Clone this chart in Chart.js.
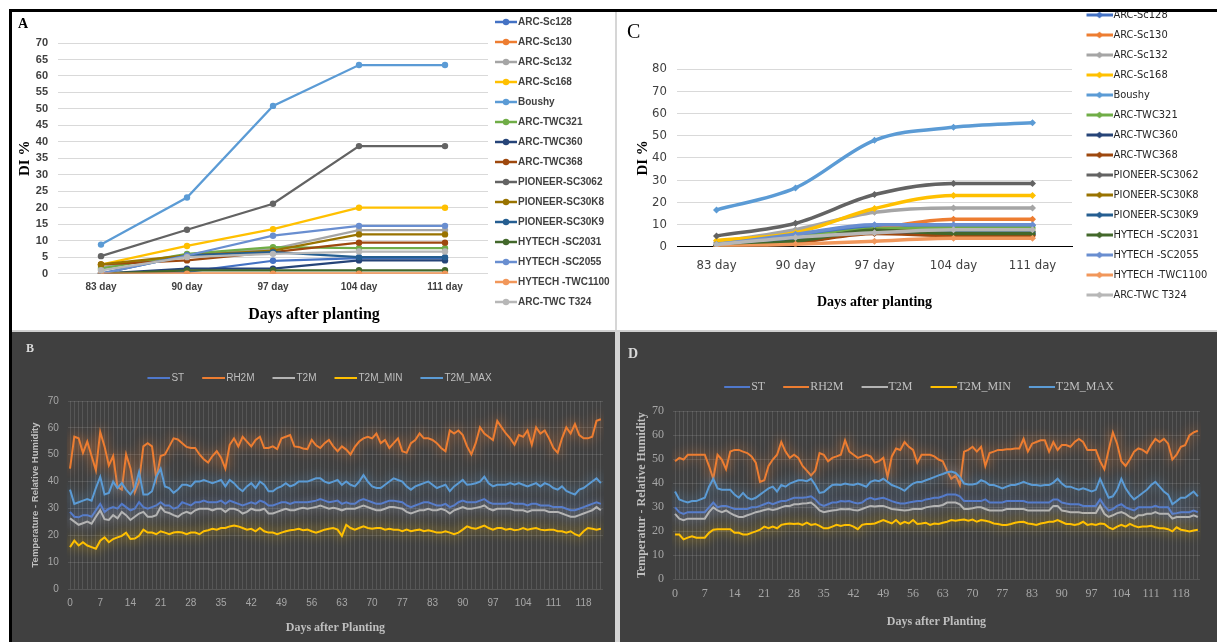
<!DOCTYPE html>
<html>
<head>
<meta charset="utf-8">
<script src="https://cdn.jsdelivr.net/npm/chart.js@4.4.1/dist/chart.umd.min.js"></script>
<style>
  html, body { margin: 0; padding: 0; background: #fff; }
  body { width: 1217px; height: 642px; position: relative; overflow: hidden; }
  canvas { position: absolute; }
  .bar { position: absolute; }
  #a { left: 0; top: 0; }
  #c { left: 617px; top: 0; }
  #b { left: 12px; top: 332px; background: #404040; }
  #d { left: 620px; top: 332px; background: #404040; }
</style>
</head>
<body>
<canvas id="a" width="615" height="330"></canvas>
<canvas id="c" width="600" height="330"></canvas>
<canvas id="b" width="603" height="310"></canvas>
<canvas id="d" width="597" height="310"></canvas>
<div class="bar" style="left:615px;top:12px;width:2px;height:318px;background:#d6d6d6"></div>
<div class="bar" style="left:12px;top:330px;width:1205px;height:2px;background:#cfcfcf"></div>
<div class="bar" style="left:615px;top:332px;width:5px;height:310px;background:#d4d4d4"></div>
<div class="bar" style="left:9px;top:9px;width:1208px;height:3px;background:#000"></div>
<div class="bar" style="left:9px;top:9px;width:3px;height:633px;background:#000"></div>
<script>
// ---- data: disease index (A, C) ----
const cultivars = ["ARC-Sc128", "ARC-Sc130", "ARC-Sc132", "ARC-Sc168", "Boushy", "ARC-TWC321", "ARC-TWC360",
  "ARC-TWC368", "PIONEER-SC3062", "PIONEER-SC30K8", "PIONEER-SC30K9", "HYTECH -SC2031", "HYTECH -SC2055",
  "HYTECH -TWC1100", "ARC-TWC T324"];
const dayCats = ["83 day", "90 day", "97 day", "104 day", "111 day"];

const diA = [
  [0, 0.5, 3.9, 4.7, 4.7],
  [0, 0, 0, 0, 0],
  [2, 5.5, 7.5, 13.2, 13.2],
  [2.7, 8.4, 13.5, 20, 20],
  [8.8, 23.1, 50.9, 63.3, 63.3],
  [1.5, 6, 8, 7.7, 7.7],
  [0, 1.5, 1.5, 4, 4],
  [2.8, 4, 6.5, 9.4, 9.4],
  [5.3, 13.3, 21.2, 38.7, 38.7],
  [2.8, 5.5, 7, 11.9, 11.9],
  [0, 5.5, 6.5, 5, 5],
  [0, 1, 1, 1, 1],
  [0, 5.5, 11.5, 14.5, 14.5],
  [0, 0, 0, 0, 0],
  [1, 5, 6, 6.7, 6.7]
];

const diC = [
  [1, 5, 9, 9.5, 9.5],
  [0.5, 2.5, 8, 12.4, 12.4],
  [2, 7.7, 15.5, 17.5, 17.5],
  [2.8, 6.3, 17.2, 23.1, 23.1],
  [16.6, 26.5, 47.9, 53.8, 55.8],
  [1, 4, 8, 8.5, 8.5],
  [0.5, 2, 6.5, 5.5, 5.5],
  [0.5, 2, 6, 5, 5],
  [4.9, 10.6, 23.5, 28.5, 28.5],
  [1, 3, 7, 7, 7],
  [0.5, 3, 7, 6.5, 6.5],
  [0.5, 2.5, 7.5, 6, 6],
  [1, 5.6, 9.9, 9.9, 9.9],
  [0, 1.1, 2.5, 3.8, 3.8],
  [1, 4.2, 6.3, 7.7, 7.7]
];

// ---- data: weather (B, D) ----
const dayTicks = ["0", "7", "14", "21", "28", "35", "42", "49", "56", "63", "70", "77", "83", "90", "97", "104", "111", "118"];
const weatherNames = ["ST", "RH2M", "T2M", "T2M_MIN", "T2M_MAX"];

const stB = [28.7, 26.9, 26.7, 27.5, 27.5, 26.9, 29.3, 31.7, 28.7, 29.9,
  30.5, 29.9, 31.7, 30.5, 29.3, 29.9, 32.3, 30.5, 29.9, 30.5,
  31.1, 32.3, 31.1, 31.1, 29.9, 30.5, 32.3, 31.7, 31.1, 32.3,
  32.3, 32.9, 32.3, 32.3, 32.3, 32.9, 31.7, 32.9, 32.3, 31.7,
  31.1, 31.7, 32.3, 31.7, 32.9, 32.3, 31.1, 31.1, 31.7, 32.3,
  32.3, 31.7, 32.3, 32.3, 32.3, 32.3, 32.6, 32.9, 33.5, 32.9,
  32.3, 32.6, 32.9, 31.7, 32.3, 31.7, 31.7, 32.9, 33.5, 32.9,
  32.3, 31.7, 31.7, 32.3, 32.9, 32.9, 32.6, 32.3, 31.1, 30.5,
  31.1, 31.7, 32.3, 32.3, 31.7, 31.1, 31.1, 31.7, 30.5, 31.1,
  32.3, 32.9, 32.3, 32.3, 32.3, 32.9, 33.5, 32.3, 31.7, 31.7,
  31.7, 31.7, 32.3, 31.7, 31.7, 31.7, 31.1, 31.7, 31.7, 31.1,
  31.1, 31.1, 30.5, 30.5, 30.5, 29.9, 29.3, 29.3, 29.9, 30.5,
  31.1, 31.7, 32.3, 31.7];
const rh2mB = [44.8, 56.7, 56.1, 50.7, 54.9, 49.5, 44.2, 58.5, 53.1, 46.0,
  49.5, 38.0, 37.0, 50.1, 45.0, 36.0, 40.0, 53.1, 54.3, 53.1,
  41.0, 49.5, 50.1, 53.1, 56.1, 55.7, 54.3, 52.9, 52.5, 52.5,
  50.1, 48.3, 47.1, 49.5, 51.3, 48.9, 44.8, 53.7, 56.1, 53.1,
  56.7, 54.9, 53.1, 55.5, 56.7, 52.5, 52.5, 53.1, 52.1, 56.1,
  56.7, 57.3, 53.1, 52.9, 52.3, 52.1, 55.5, 53.5, 52.5, 54.3,
  55.5, 53.1, 51.3, 53.1, 51.9, 50.1, 52.9, 54.9, 56.1, 56.7,
  56.1, 57.9, 54.3, 55.5, 52.5, 54.3, 56.1, 51.3, 50.7, 54.3,
  55.5, 57.9, 56.1, 56.1, 55.5, 54.3, 52.5, 51.3, 59.0, 57.9,
  59.0, 57.3, 53.1, 50.1, 54.3, 60.2, 57.9, 56.7, 55.5, 62.6,
  60.2, 57.9, 56.1, 53.7, 57.3, 56.7, 59.0, 53.7, 60.2, 57.9,
  59.0, 56.1, 52.5, 50.7, 56.1, 60.2, 57.9, 61.4, 57.3, 56.1,
  56.1, 56.7, 62.6, 63.2];
const t2mB = [26.3, 25.1, 23.9, 24.5, 25.1, 24.3, 26.9, 29.3, 26.0, 25.7,
  27.5, 26.3, 28.7, 27.5, 25.7, 26.9, 28.1, 28.7, 26.9, 26.9,
  27.5, 30.5, 28.7, 28.3, 27.5, 26.9, 28.1, 28.7, 28.1, 29.3,
  29.9, 29.9, 29.9, 29.3, 29.9, 29.9, 28.7, 29.9, 29.9, 29.3,
  28.1, 28.7, 29.9, 29.3, 29.3, 29.9, 28.1, 28.1, 28.7, 29.3,
  29.9, 29.3, 29.3, 29.9, 30.2, 29.9, 30.2, 30.5, 31.1, 30.5,
  29.9, 30.2, 29.9, 29.3, 29.9, 29.9, 29.9, 30.5, 31.1, 30.5,
  29.9, 29.3, 29.3, 29.9, 30.5, 30.5, 30.2, 29.9, 28.7, 28.1,
  28.7, 29.3, 29.3, 29.9, 29.3, 29.3, 29.9, 29.3, 28.1, 29.3,
  29.9, 30.5, 29.9, 29.9, 30.2, 30.5, 31.1, 29.9, 29.3, 29.9,
  29.9, 29.9, 29.9, 29.3, 29.3, 29.3, 28.7, 29.3, 29.3, 29.3,
  29.3, 28.7, 28.7, 28.7, 28.1, 27.5, 26.9, 26.9, 27.5, 28.1,
  28.7, 29.3, 30.5, 29.3];
const t2mMinB = [15.6, 18.0, 16.2, 17.4, 16.2, 15.6, 15.0, 18.0, 19.2, 17.4,
  18.6, 19.2, 19.8, 21.0, 18.6, 18.8, 19.8, 22.1, 21.0, 21.0,
  20.4, 21.5, 21.0, 20.4, 21.0, 21.2, 21.0, 20.4, 21.0, 21.0,
  20.4, 21.5, 21.9, 22.4, 22.1, 22.7, 22.7, 23.3, 23.6, 23.3,
  22.7, 22.1, 22.4, 21.5, 22.7, 21.5, 21.0, 21.0, 20.4, 21.0,
  21.5, 21.9, 22.1, 22.4, 21.9, 22.1, 21.5, 21.0, 21.5, 22.1,
  22.4, 22.7, 22.1, 19.8, 23.9, 22.7, 22.1, 22.7, 23.3, 22.7,
  22.4, 22.7, 22.7, 22.1, 22.4, 22.1, 22.1, 21.5, 22.1, 21.5,
  21.9, 22.1, 21.5, 21.9, 21.5, 21.0, 21.0, 21.5, 21.0, 20.4,
  21.0, 22.1, 23.3, 22.7, 22.4, 23.0, 23.6, 22.7, 22.1, 22.7,
  22.7, 22.1, 22.4, 21.9, 22.1, 22.7, 22.1, 22.4, 22.7, 22.1,
  21.9, 22.1, 22.1, 21.5, 21.5, 21.0, 21.5, 20.4, 19.8, 21.5,
  22.7, 22.4, 22.1, 22.4];
const t2mMaxB = [37.0, 31.7, 32.3, 32.9, 33.5, 32.9, 37.6, 41.8, 35.2, 35.8,
  40.0, 37.6, 39.4, 37.0, 35.2, 37.6, 43.6, 35.2, 35.2, 36.4,
  41.8, 44.8, 38.2, 37.6, 35.8, 37.0, 38.8, 38.8, 38.2, 40.0,
  40.0, 40.6, 40.0, 39.4, 40.0, 40.6, 38.2, 40.6, 39.4, 37.6,
  36.4, 38.2, 39.4, 37.6, 40.0, 38.8, 36.4, 36.4, 37.6, 38.2,
  39.4, 38.2, 38.8, 40.0, 40.0, 40.0, 40.6, 41.2, 41.2, 40.0,
  39.4, 40.0, 40.6, 38.8, 40.0, 38.8, 38.2, 40.0, 42.4, 40.0,
  38.2, 37.6, 37.6, 38.8, 40.0, 41.2, 40.6, 40.0, 38.2, 37.0,
  38.2, 38.8, 39.4, 40.0, 38.8, 37.6, 38.2, 38.8, 36.4, 38.2,
  39.4, 40.6, 38.8, 39.0, 39.4, 40.0, 41.8, 39.4, 38.2, 38.8,
  38.8, 38.8, 39.4, 38.8, 39.4, 38.8, 38.2, 38.8, 39.4, 38.2,
  39.4, 38.8, 37.6, 37.0, 38.2, 36.5, 35.8, 35.2, 37.0, 37.6,
  38.8, 40.0, 41.2, 39.4];

const stD = [29.9, 27.9, 27.2, 27.9, 27.9, 27.9, 27.9, 27.9, 29.9, 31.9,
  29.9, 30.5, 30.5, 29.9, 29.2, 29.2, 29.2, 29.2, 29.9, 29.9,
  30.5, 31.2, 31.9, 31.2, 31.9, 32.5, 32.5, 33.2, 33.9, 33.9,
  33.9, 34.1, 34.5, 33.2, 31.2, 30.5, 31.2, 31.9, 31.9, 32.5,
  32.3, 32.5, 31.9, 31.5, 31.9, 33.2, 33.9, 33.2, 33.6, 33.9,
  33.2, 32.5, 31.9, 31.5, 31.5, 31.9, 32.2, 32.5, 32.5, 33.2,
  33.5, 33.9, 33.9, 34.5, 35.2, 35.2, 35.2, 34.5, 32.5, 32.5,
  32.5, 32.5, 32.5, 33.2, 31.9, 31.9, 31.9, 31.9, 32.5, 32.5,
  32.5, 32.5, 32.5, 31.9, 31.9, 31.9, 31.9, 31.9, 31.9, 33.2,
  33.2, 31.9, 31.5, 31.2, 31.2, 31.2, 30.5, 30.5, 30.5, 30.5,
  33.2, 30.5, 28.6, 29.2, 30.5, 31.2, 29.9, 29.2, 28.6, 29.9,
  29.9, 29.9, 29.9, 30.5, 29.9, 29.9, 29.9, 27.2, 27.5, 27.9,
  27.9, 27.9, 28.6, 27.9];
const rh2mD = [49.1, 50.5, 49.8, 51.8, 51.8, 51.8, 51.8, 51.8, 47.1, 41.8,
  51.8, 49.8, 45.8, 53.1, 53.8, 53.8, 53.1, 52.5, 51.1, 48.5,
  40.5, 41.2, 47.1, 49.8, 51.8, 57.1, 53.1, 50.5, 51.8, 50.5,
  47.1, 45.2, 43.2, 45.2, 52.5, 51.8, 49.1, 50.5, 51.1, 51.8,
  57.8, 53.1, 51.8, 50.5, 51.1, 51.8, 51.1, 48.5, 49.1, 50.5,
  42.5, 51.1, 54.4, 53.8, 57.1, 55.1, 53.8, 48.5, 51.8, 51.8,
  51.8, 51.1, 49.8, 49.1, 45.2, 41.8, 43.2, 39.2, 53.1, 53.8,
  55.1, 53.1, 55.1, 47.1, 52.5, 53.1, 53.8, 53.8, 54.1, 54.1,
  54.4, 54.4, 58.4, 53.1, 56.4, 57.1, 57.8, 57.8, 53.1, 57.1,
  53.8, 55.8, 55.8, 55.1, 57.1, 58.4, 57.1, 53.8, 53.8, 53.8,
  49.1, 45.8, 53.8, 61.1, 56.4, 49.1, 47.1, 49.8, 53.1, 54.4,
  53.8, 52.5, 55.8, 58.4, 57.1, 58.4, 56.4, 49.8, 51.8, 55.1,
  55.8, 59.8, 61.1, 61.8];
const t2mD = [27.2, 25.2, 24.6, 25.2, 25.2, 25.2, 25.2, 25.2, 27.9, 29.9,
  28.6, 27.9, 28.6, 27.5, 26.6, 25.9, 25.9, 26.6, 27.2, 27.9,
  28.3, 28.8, 29.2, 28.8, 29.2, 29.9, 30.5, 30.5, 31.2, 31.2,
  31.5, 31.6, 31.9, 30.5, 28.6, 27.9, 28.3, 28.6, 28.8, 29.2,
  29.1, 29.2, 28.8, 28.6, 29.2, 29.9, 30.5, 30.3, 30.5, 30.5,
  29.9, 29.2, 29.0, 28.8, 28.6, 28.8, 29.2, 29.2, 29.2, 29.9,
  30.2, 30.5, 30.5, 30.9, 31.9, 31.9, 31.9, 31.2, 29.2, 29.2,
  29.5, 29.9, 29.9, 29.2, 28.6, 28.6, 28.6, 28.6, 29.2, 29.2,
  29.2, 29.2, 29.2, 28.6, 28.6, 28.6, 28.6, 28.6, 28.6, 30.5,
  30.5, 28.6, 28.3, 27.9, 27.9, 27.9, 27.5, 27.5, 27.5, 27.5,
  30.5, 27.2, 25.9, 26.6, 27.5, 27.9, 27.2, 25.9, 25.2, 26.6,
  26.6, 27.2, 27.2, 27.9, 27.2, 27.2, 27.2, 25.2, 25.9, 25.9,
  25.9, 25.9, 26.6, 25.9];
const t2mMinD = [18.6, 18.6, 16.6, 17.3, 17.9, 17.3, 17.3, 17.3, 19.3, 20.6,
  20.8, 20.8, 20.8, 20.8, 19.3, 19.3, 18.6, 18.6, 19.3, 19.9,
  20.6, 21.9, 21.2, 21.9, 21.2, 22.6, 23.0, 23.2, 23.0, 23.2,
  22.6, 23.5, 22.6, 23.0, 22.2, 21.2, 21.2, 21.9, 22.6, 22.2,
  22.6, 22.6, 21.9, 20.8, 22.6, 23.0, 23.0, 23.2, 23.9, 24.6,
  23.9, 23.2, 24.6, 23.0, 23.9, 23.2, 24.6, 23.0, 23.2, 23.5,
  22.6, 23.2, 23.0, 23.5, 23.9, 24.6, 24.3, 24.6, 24.8, 24.3,
  24.8, 23.9, 24.6, 24.3, 23.9, 23.2, 23.0, 22.6, 22.6, 23.0,
  23.5, 23.8, 23.9, 23.2, 23.0, 22.6, 23.2, 23.5, 23.9, 23.9,
  24.6, 23.8, 23.0, 23.0, 22.6, 23.0, 23.9, 22.6, 23.0, 22.6,
  23.2, 23.0, 21.6, 20.8, 21.9, 22.6, 21.9, 23.0, 22.2, 21.6,
  21.9, 21.9, 22.2, 21.6, 21.2, 21.2, 20.8, 19.9, 21.6, 20.6,
  20.3, 19.9, 20.3, 20.6];
const t2mMaxD = [36.5, 33.2, 32.5, 31.9, 32.5, 32.5, 33.2, 33.9, 38.5, 41.8,
  37.8, 37.2, 37.2, 37.2, 35.2, 33.9, 35.9, 33.9, 33.2, 33.9,
  35.2, 36.5, 37.8, 38.5, 36.5, 39.2, 38.5, 39.8, 40.5, 41.2,
  41.2, 40.8, 41.8, 39.2, 35.9, 36.3, 37.8, 39.2, 39.4, 39.2,
  39.8, 39.4, 39.2, 39.8, 39.2, 38.5, 40.5, 41.2, 40.8, 41.8,
  40.5, 39.2, 38.5, 37.8, 36.8, 38.5, 39.8, 40.5, 40.5, 41.2,
  41.8, 42.5, 43.2, 43.8, 44.5, 44.8, 44.2, 42.5, 39.8, 39.4,
  39.4, 39.8, 41.2, 40.5, 39.2, 39.2, 38.5, 37.8, 38.5, 39.2,
  39.2, 39.8, 40.5, 39.8, 39.2, 39.2, 38.9, 39.2, 39.2, 40.2,
  41.8, 39.8, 38.5, 38.5, 37.8, 37.2, 37.8, 37.2, 36.5, 37.2,
  41.8, 37.8, 33.9, 34.5, 37.2, 41.8, 37.8, 35.2, 33.2, 34.5,
  35.9, 37.2, 39.2, 40.5, 38.5, 36.5, 35.2, 31.2, 32.5, 33.9,
  33.9, 35.2, 36.5, 34.5];

// ---- styles ----
const cultivarColors = ["#4472C4", "#ED7D31", "#A5A5A5", "#FFC000", "#5B9BD5", "#70AD47", "#264478",
  "#9E480E", "#636363", "#997300", "#255E91", "#43682B", "#698ED0", "#F1975A", "#B7B7B7"];
const weatherColors = ["#4F78CC", "#ED7D31", "#B4B4B4", "#FFC000", "#5B9BD5"];

const SERIF = "'Liberation Serif', 'Times New Roman', serif";
const NARROW = "'Liberation Sans Narrow', 'DejaVu Sans Condensed', 'Liberation Sans', sans-serif";

Chart.defaults.font.family = "'Liberation Sans', Arial, sans-serif";
Chart.defaults.animation = false;
Chart.defaults.responsive = false;
Chart.defaults.devicePixelRatio = 1;
Chart.defaults.plugins.tooltip.enabled = false;

// legend sample: a short line (with marker) drawn on a small canvas
function lineIcon(color, w, m, lw, marker) {
  const c = document.createElement("canvas");
  c.width = w; c.height = 10;
  const g = c.getContext("2d");
  g.strokeStyle = color; g.fillStyle = color; g.lineWidth = lw;
  g.beginPath(); g.moveTo(m, 5); g.lineTo(w, 5); g.stroke();
  const cx = (m + w) / 2;
  if (marker === "circle") { g.beginPath(); g.arc(cx, 5, 3.2, 0, Math.PI * 2); g.fill(); }
  if (marker === "diamond") {
    g.beginPath(); g.moveTo(cx, 1.5); g.lineTo(cx + 3.5, 5); g.lineTo(cx, 8.5); g.lineTo(cx - 3.5, 5); g.closePath(); g.fill();
  }
  return c;
}

const withIcons = (icons) => (chart) => {
  const items = Chart.defaults.plugins.legend.labels.generateLabels(chart);
  items.forEach(it => { it.pointStyle = icons[it.datasetIndex]; });
  return items;
};
const byIndex = (a, b) => a.datasetIndex - b.datasetIndex;

// soft glow behind the weather lines
const glow = {
  id: "glow",
  beforeDatasetDraw(chart, args) {
    const ctx = chart.ctx;
    ctx.save();
    ctx.shadowColor = chart.data.datasets[args.index].borderColor;
    ctx.shadowBlur = 12;
  },
  afterDatasetDraw(chart) { chart.ctx.restore(); }
};

// ---- A ----
new Chart(document.getElementById("a"), {
  type: "line",
  data: {
    labels: dayCats,
    datasets: cultivars.map((name, i) => ({
      label: name, data: diA[i], order: -i,
      borderColor: cultivarColors[i], backgroundColor: cultivarColors[i],
      borderWidth: 2.25, pointRadius: 3.2, pointBorderWidth: 0, tension: 0
    }))
  },
  options: {
    layout: { padding: { left: 18, top: 7, right: 5, bottom: 0 } },
    plugins: {
      title: { display: true, text: "A", align: "start", color: "#000",
        font: { family: SERIF, size: 14, weight: "bold" }, padding: { top: 8.6, bottom: 10.6 } },
      subtitle: { display: true, text: "Days after planting", position: "bottom", color: "#000",
        font: { family: SERIF, size: 16, weight: "bold" }, padding: { top: 5, bottom: 5.4 } },
      legend: {
        position: "right", align: "start", weight: 3000, maxWidth: 122,
        labels: { usePointStyle: true, pointStyleWidth: 15, padding: 10, color: "#404040",
          font: { size: 10, weight: "bold" }, sort: byIndex,
          generateLabels: withIcons(cultivarColors.map(c => lineIcon(c, 23, 1, 2.5, "circle"))) }
      }
    },
    scales: {
      x: {
        offset: true, grid: { display: false, drawTicks: false }, border: { display: false },
        ticks: { color: "#404040", padding: 7.4, font: { size: 10, weight: "bold" } }
      },
      y: {
        min: 0, max: 70,
        ticks: { stepSize: 5, color: "#404040", padding: 10, font: { size: 11, weight: "bold" } },
        grid: { color: "#d9d9d9", drawTicks: false }, border: { display: false },
        title: { display: true, text: "DI %", color: "#000",
          font: { family: SERIF, size: 15, weight: "bold", lineHeight: 1 }, padding: { top: 0, bottom: 0 } },
        afterFit: s => { s.width = 40; }
      }
    }
  }
});

// ---- C ----
new Chart(document.getElementById("c"), {
  type: "line",
  data: {
    labels: dayCats,
    datasets: cultivars.map((name, i) => ({
      label: name, data: diC[i], order: -i,
      borderColor: cultivarColors[i], backgroundColor: cultivarColors[i],
      borderWidth: 3.5, pointStyle: "rectRot", pointRadius: 3.5, pointBorderWidth: 0,
      cubicInterpolationMode: "monotone"
    }))
  },
  options: {
    layout: { padding: { left: 10, top: 0.5, right: 5, bottom: 4.6 } },
    plugins: {
      title: { display: true, text: "C", align: "start", color: "#000",
        font: { family: SERIF, size: 20, weight: "normal" }, padding: { top: 20.5, bottom: 24 } },
      legend: {
        position: "right", align: "start", weight: 3000, maxWidth: 140,
        labels: { usePointStyle: true, pointStyleWidth: 27, padding: 9, color: "#262626",
          font: { family: NARROW, size: 11 }, sort: byIndex,
          generateLabels: withIcons(cultivarColors.map(c => lineIcon(c, 36, 10, 3, "diamond"))) }
      }
    },
    scales: {
      x: {
        offset: true, grid: { display: false, drawTicks: false }, border: { color: "#000", width: 1 },
        ticks: { color: "#404040", padding: 11.2, font: { family: NARROW, size: 13 } },
        title: { display: true, text: "Days after planting", color: "#000",
          font: { family: SERIF, size: 14, weight: "bold" }, padding: { top: 8.8, bottom: 15 } }
      },
      y: {
        min: 0, max: 80,
        ticks: { stepSize: 10, color: "#404040", padding: 10, font: { family: NARROW, size: 13 } },
        grid: { color: ctx => (ctx.tick && ctx.tick.value === 0 ? "#000" : "#d9d9d9"), drawTicks: false },
        border: { display: false },
        title: { display: true, text: "DI %", color: "#000",
          font: { family: SERIF, size: 15, weight: "bold", lineHeight: 1 }, padding: { top: 8.5, bottom: 0 } },
        afterFit: s => { s.width = 50; }
      }
    }
  }
});

// ---- B / D ----
function weatherChart(id, letter, series, opt) {
  const labels = series[0].map((_, i) => (i % 7 === 0 ? dayTicks[i / 7] : ""));
  return new Chart(document.getElementById(id), {
    type: "line",
    data: {
      labels,
      datasets: weatherNames.map((name, i) => ({
        label: name, data: series[i], order: -i,
        borderColor: weatherColors[i], backgroundColor: weatherColors[i],
        borderWidth: 2, pointRadius: 0, tension: 0
      }))
    },
    options: {
      layout: { padding: opt.pad },
      plugins: {
        title: { display: true, text: letter, align: "start", color: "#d9d9d9",
          font: { family: SERIF, size: opt.letterSize, weight: "bold" }, padding: opt.letterPad },
        legend: {
          position: "top", align: "center",
          labels: { usePointStyle: true, pointStyleWidth: opt.bw, padding: 8, color: "#bfbfbf",
            font: opt.legendFont, sort: byIndex,
            generateLabels: withIcons(weatherColors.map(c => lineIcon(c, opt.iconW, opt.iconM, 2, null))) }
        },
        subtitle: { display: true, text: "", weight: 500, font: { size: 1, lineHeight: 1 },
          padding: { top: 0, bottom: opt.gap } }
      },
      scales: {
        x: {
          offset: true,
          grid: { color: "rgba(217,217,217,0.14)", drawTicks: false, offset: false },
          border: { display: false },
          ticks: { autoSkip: false, maxRotation: 0, color: "#a6a6a6", padding: opt.xPad, font: opt.tickFont },
          title: { display: true, text: "Days after Planting", color: "#bfbfbf",
            font: { family: SERIF, size: 12, weight: "bold" }, padding: opt.xTitlePad }
        },
        y: {
          min: 0, max: 70,
          ticks: { stepSize: 10, color: "#a6a6a6", padding: 9, font: opt.tickFont },
          grid: { color: "rgba(217,217,217,0.14)", drawTicks: false },
          border: { display: false },
          title: { display: true, text: opt.yTitle, color: "#bfbfbf", font: opt.yTitleFont,
            padding: { top: opt.yTitleTop, bottom: 0 } },
          afterFit: s => { s.width = opt.yWidth; }
        }
      }
    },
    plugins: [glow]
  });
}

weatherChart("b", "B", [stB, rh2mB, t2mB, t2mMinB, t2mMaxB], {
  pad: { left: 14, top: 0, right: 12, bottom: 0 },
  letterSize: 12, letterPad: { top: 9.8, bottom: 8.8 },
  bw: 29, iconW: 37, iconM: 14, legendFont: { size: 10 }, gap: 7,
  tickFont: { size: 10 }, xPad: 8, xTitlePad: { top: 3.8, bottom: 6.8 },
  yTitle: "Temperature - Relative Humidity",
  yTitleFont: { size: 9.5, weight: "bold", lineHeight: 1.2 }, yTitleTop: 3.3, yWidth: 41.85
});

weatherChart("d", "D", [stD, rh2mD, t2mD, t2mMinD, t2mMaxD], {
  pad: { left: 8, top: 0, right: 17, bottom: 0 },
  letterSize: 14, letterPad: { top: 13.6, bottom: 10.6 },
  bw: 31, iconW: 41, iconM: 15, legendFont: { family: SERIF, size: 12 }, gap: 7,
  tickFont: { family: SERIF, size: 12 }, xPad: 7.8, xTitlePad: { top: 5.6, bottom: 12.8 },
  yTitle: "Temperatur - Relative Humidity",
  yTitleFont: { family: SERIF, size: 12, weight: "bold", lineHeight: 1 }, yTitleTop: 8, yWidth: 44.9
});
</script>
</body>
</html>
